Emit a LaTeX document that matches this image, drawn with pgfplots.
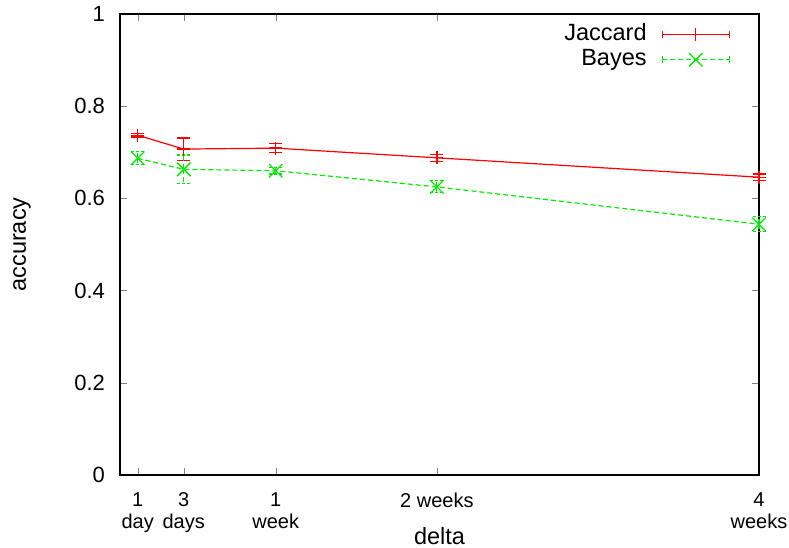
\documentclass[border=0pt]{standalone}
\usepackage{fontspec}
\setmainfont{Liberation Sans}
\usepackage{pgfplots}
\pgfplotsset{compat=1.18}
\definecolor{jaccol}{RGB}{255,0,0}
\definecolor{bayescol}{RGB}{0,235,0}
\newcommand{\labfont}{\fontsize{23.5}{24}\selectfont}
\newcommand{\xtfont}{\fontsize{20}{21.5}\selectfont}
\newcommand{\ytfont}{\fontsize{22}{24}\selectfont}
\begin{document}
\labfont
\begin{tikzpicture}
\begin{axis}[
  scale only axis, width=639pt, height=461pt,
  xmin=0.23, xmax=28, ymin=0, ymax=1,
  clip=false,
  xtick={1,3,7,14,28},
  xticklabels={1\\day,3\\days,1\\week,2 weeks,4\\weeks},
  xticklabel style={align=center, anchor=north, yshift=-10pt, font=\xtfont},
  ytick={0,0.2,0.4,0.6,0.8,1},
  yticklabels={0,0.2,0.4,0.6,0.8,1},
  yticklabel style={font=\ytfont, xshift=-7pt},
  tick align=inside, tick pos=both, major tick length=7pt,
  axis line style={line width=1.2pt},
  xlabel={delta}, ylabel={accuracy},
  xlabel style={at={(rel axis cs:0.5,0)}, anchor=center, yshift=-61pt, font=\labfont},
  ylabel style={at={(rel axis cs:0,0.5)}, anchor=center, yshift=98pt, font=\labfont},
  legend plot pos=right,
  legend cell align=right,
  legend style={draw=none, fill=none, at={(rel axis cs:1,1)}, anchor=north east,
    xshift=-29pt, yshift=-11pt, inner sep=0pt, row sep=6pt, column sep=15pt,
    nodes={inner sep=0pt, text height=15pt, text depth=4pt, font=\labfont}},
  legend image code/.code={
    \draw[#1, mark=none] (0pt,0pt) -- (67pt,0pt);
    \draw[#1, solid, mark=none, line width=1pt] (0pt,-3.5pt) -- (0pt,3.5pt) (67pt,-3.5pt) -- (67pt,3.5pt);
    \draw[#1, only marks] plot coordinates {(33.5pt,0pt)};
  },
]
\addplot[jaccol, line width=1.2pt, mark=+, mark size=6.5pt,
  mark options={solid, jaccol, line width=1.3pt},
  error bars/.cd, y dir=both, y explicit,
  error bar style={jaccol, line width=1.2pt, solid},
  error mark options={rotate=90, mark size=6.5pt, jaccol, line width=1.2pt, solid}]
  coordinates {
  (1,0.737) +- (0,0.004)
  (3,0.707) +- (0,0.024)
  (7,0.709) +- (0,0.010)
  (14,0.688) +- (0,0.008)
  (28,0.646) +- (0,0.007)
  };
\addlegendentry{Jaccard}
\addplot[bayescol, line width=1.2pt, dash pattern=on 5pt off 3pt, mark=x, mark size=9.5pt,
  mark options={solid, bayescol, line width=1.3pt},
  error bars/.cd, y dir=both, y explicit,
  error bar style={bayescol, line width=1.2pt, dash pattern=on 5pt off 3pt},
  error mark options={rotate=90, mark size=6.5pt, bayescol, line width=1.2pt, dash pattern=on 3pt off 2pt}]
  coordinates {
  (1,0.687) +- (0,0.014)
  (3,0.663) +- (0,0.031)
  (7,0.660) +- (0,0.007)
  (14,0.625) +- (0,0.013)
  (28,0.544) +- (0,0.016)
  };
\addlegendentry{Bayes}
\end{axis}
\pgfresetboundingbox
\path (-120pt,-73pt) rectangle (669pt,475pt);
\end{tikzpicture}
\end{document}
